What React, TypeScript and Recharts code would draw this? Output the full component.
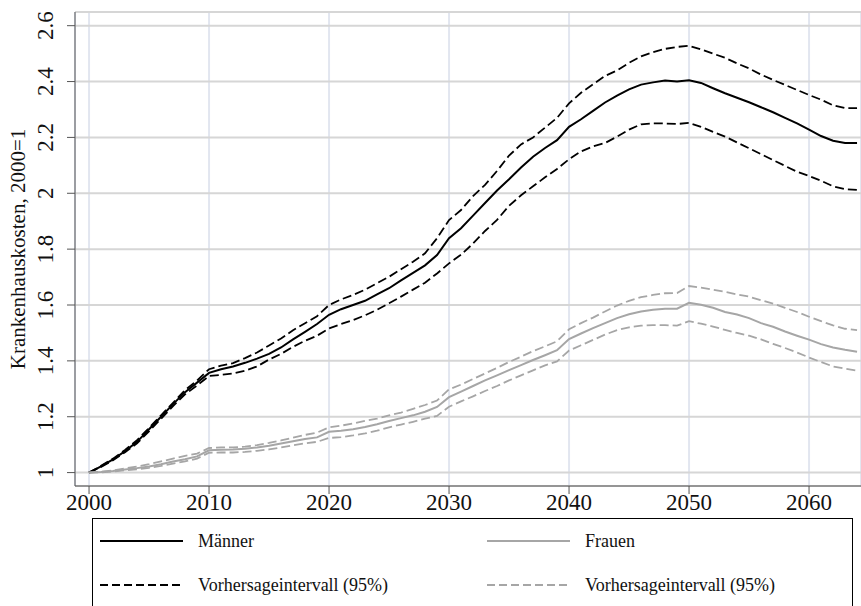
import React from "react";
import { CartesianGrid, Legend, Line, LineChart, XAxis, YAxis } from "recharts";

// Jahre 2000–2064
const years = [
  2000, 2001, 2002, 2003, 2004, 2005, 2006, 2007, 2008, 2009,
  2010, 2011, 2012, 2013, 2014, 2015, 2016, 2017, 2018, 2019,
  2020, 2021, 2022, 2023, 2024, 2025, 2026, 2027, 2028, 2029,
  2030, 2031, 2032, 2033, 2034, 2035, 2036, 2037, 2038, 2039,
  2040, 2041, 2042, 2043, 2044, 2045, 2046, 2047, 2048, 2049,
  2050, 2051, 2052, 2053, 2054, 2055, 2056, 2057, 2058, 2059,
  2060, 2061, 2062, 2063, 2064,
];

const menMid = [
  1.0, 1.022, 1.047, 1.077, 1.11, 1.155, 1.2, 1.245, 1.288, 1.322,
  1.357, 1.37, 1.38, 1.393, 1.408, 1.425, 1.448, 1.477, 1.504, 1.532,
  1.565, 1.585, 1.6, 1.615, 1.638, 1.66, 1.688, 1.715, 1.742, 1.779,
  1.839, 1.875, 1.92, 1.965, 2.01, 2.05, 2.092, 2.131, 2.162, 2.19,
  2.238, 2.265, 2.295, 2.325, 2.35, 2.372, 2.389, 2.397, 2.404, 2.4,
  2.405, 2.395, 2.376, 2.358, 2.342, 2.326, 2.308, 2.29, 2.27, 2.25,
  2.228, 2.205, 2.188, 2.18, 2.18,
];

const menHigh = [
  1.0, 1.024, 1.05, 1.081, 1.116, 1.16, 1.205, 1.25, 1.295, 1.33,
  1.37, 1.383, 1.392, 1.41, 1.43, 1.455, 1.48, 1.51, 1.535, 1.56,
  1.6, 1.62, 1.636, 1.655, 1.678, 1.701, 1.728, 1.755, 1.785, 1.839,
  1.904, 1.94, 1.99, 2.03, 2.08, 2.135, 2.175, 2.2, 2.235, 2.27,
  2.322, 2.36, 2.39, 2.42, 2.44, 2.467, 2.49, 2.505, 2.517, 2.524,
  2.528, 2.515, 2.5, 2.485, 2.465, 2.447, 2.425, 2.406, 2.388, 2.37,
  2.352, 2.335, 2.315, 2.305, 2.305,
];

const menLow = [
  1.0, 1.02, 1.044, 1.073, 1.105, 1.148, 1.193, 1.238, 1.28, 1.312,
  1.346, 1.35, 1.355, 1.365, 1.38, 1.405, 1.425, 1.45, 1.472, 1.49,
  1.516, 1.532, 1.546, 1.563, 1.583, 1.606, 1.63, 1.655, 1.68, 1.713,
  1.749, 1.78, 1.82, 1.865, 1.905, 1.955, 1.993, 2.025, 2.057, 2.087,
  2.122, 2.15, 2.168, 2.18, 2.203, 2.228, 2.247, 2.25, 2.25, 2.248,
  2.252, 2.238, 2.22, 2.203, 2.182, 2.161, 2.14, 2.119, 2.098, 2.077,
  2.062, 2.045, 2.025, 2.015, 2.012,
];

const womenMid = [
  1.0, 1.002, 1.006, 1.011, 1.016, 1.022, 1.03, 1.04, 1.048, 1.058,
  1.08, 1.082, 1.083, 1.085, 1.09, 1.096, 1.104, 1.112, 1.12, 1.126,
  1.146, 1.15, 1.155, 1.163, 1.173, 1.185, 1.195, 1.205, 1.218, 1.235,
  1.27, 1.29, 1.31, 1.33, 1.348, 1.367, 1.385, 1.403, 1.42, 1.438,
  1.478, 1.498, 1.517, 1.535, 1.553, 1.567, 1.577, 1.583, 1.587, 1.587,
  1.608, 1.601, 1.59, 1.575, 1.566, 1.553, 1.535, 1.522, 1.505, 1.49,
  1.476, 1.46, 1.448, 1.44, 1.433,
];

const womenHigh = [
  1.0, 1.003, 1.008, 1.015, 1.022, 1.03, 1.04, 1.05, 1.06, 1.068,
  1.088, 1.09, 1.09, 1.093, 1.098, 1.106, 1.115, 1.125, 1.135, 1.143,
  1.162, 1.168, 1.176, 1.185, 1.193, 1.205, 1.215, 1.228, 1.242, 1.258,
  1.298, 1.315, 1.335, 1.355, 1.375, 1.396, 1.415, 1.435, 1.452, 1.47,
  1.513, 1.535, 1.555, 1.577, 1.598, 1.615, 1.628, 1.636, 1.642, 1.643,
  1.668, 1.662, 1.655, 1.647, 1.638, 1.63, 1.617, 1.605, 1.59, 1.575,
  1.558, 1.542, 1.527, 1.515, 1.51,
];

const womenLow = [
  1.0, 1.001, 1.004, 1.008, 1.012, 1.017, 1.024, 1.032, 1.04, 1.05,
  1.071, 1.072, 1.072, 1.074, 1.078, 1.083, 1.09, 1.098, 1.105, 1.11,
  1.124, 1.127, 1.133, 1.14, 1.15, 1.162, 1.172, 1.182, 1.193, 1.203,
  1.236, 1.255, 1.273, 1.292, 1.31, 1.33, 1.348, 1.366, 1.384, 1.398,
  1.437, 1.456, 1.475, 1.494, 1.51, 1.52, 1.526, 1.528, 1.528, 1.526,
  1.542, 1.533, 1.523, 1.511, 1.5, 1.49, 1.477, 1.461, 1.446, 1.43,
  1.412, 1.396, 1.38, 1.372, 1.365,
];

const xTicks = [2000, 2010, 2020, 2030, 2040, 2050, 2060];
const yTicks = [1, 1.2, 1.4, 1.6, 1.8, 2, 2.2, 2.4, 2.6];

const yTitle = "Krankenhauskosten, 2000=1";
const legendLabels = {
  men: "Männer",
  women: "Frauen",
  ci: "Vorhersageintervall (95%)",
};

const data = years.map((year, i) => ({
  year,
  menMid: menMid[i],
  menHigh: menHigh[i],
  menLow: menLow[i],
  womenMid: womenMid[i],
  womenHigh: womenHigh[i],
  womenLow: womenLow[i],
}));

const FONT = "'Liberation Serif', 'DejaVu Serif', serif";
const BLACK = "#000000";
const GRAY = "#a6a6a6";
const DASH = "9 4";

const fmtY = (v: number) => String(Math.round(v * 10) / 10);

const YTick = (props: any) => {
  const { y, payload } = props;
  const cx = 46;
  return (
    <text
      x={cx}
      y={y}
      transform={`rotate(-90, ${cx}, ${y})`}
      textAnchor="middle"
      dominantBaseline="central"
      fontFamily={FONT}
      fontSize={23}
      fill="#111"
    >
      {fmtY(payload.value)}
    </text>
  );
};

const XTick = (props: any) => {
  const { x, y, payload } = props;
  return (
    <text x={x} y={y + 16} textAnchor="middle" fontFamily={FONT} fontSize={23} fill="#111">
      {payload.value}
    </text>
  );
};

const YTitle = (props: any) => {
  const { viewBox } = props;
  const cy = viewBox.y + viewBox.height / 2;
  const cx = 18;
  return (
    <text
      x={cx}
      y={cy}
      transform={`rotate(-90, ${cx}, ${cy})`}
      textAnchor="middle"
      dominantBaseline="central"
      fontFamily={FONT}
      fontSize={21}
      fill="#111"
    >
      {yTitle}
    </text>
  );
};

const LegendItem = ({ left, top, color, dashed, label }: any) => (
  <div style={{ position: "absolute", left, top, height: 20, display: "flex", alignItems: "center" }}>
    <svg width={83} height={4} style={{ display: "block" }}>
      <line x1={0} y1={2} x2={83} y2={2} stroke={color} strokeWidth={2} strokeDasharray={dashed ? "8 4" : undefined} />
    </svg>
    <span style={{ marginLeft: 15, lineHeight: "20px", whiteSpace: "nowrap" }}>{label}</span>
  </div>
);

const renderLegend = () => (
  <div
    style={{
      position: "relative",
      width: 761,
      height: 100,
      boxSizing: "border-box",
      border: "1px solid #000",
      background: "#fff",
      fontFamily: FONT,
      fontSize: 18,
      color: "#111",
    }}
  >
    <LegendItem left={7} top={12} color={BLACK} label={legendLabels.men} />
    <LegendItem left={394} top={12} color={GRAY} label={legendLabels.women} />
    <LegendItem left={7} top={56} color={BLACK} dashed label={legendLabels.ci} />
    <LegendItem left={394} top={56} color={GRAY} dashed label={legendLabels.ci} />
  </div>
);

export default function App() {
  return (
    <div style={{ position: "absolute", left: 0, top: 0, width: 861, height: 606, background: "#fff" }}>
      <LineChart width={861} height={606} data={data} margin={{ top: 12, right: 0, bottom: 0, left: 0 }}>
        <CartesianGrid horizontal={false} stroke="#e2e6f0" strokeWidth={2} />
        <CartesianGrid vertical={false} stroke="#d6d6d6" strokeWidth={2} />
        <XAxis
          dataKey="year"
          type="number"
          domain={[1998.83, 2064.33]}
          ticks={xTicks}
          allowDataOverflow
          height={32}
          tickSize={8}
          tickMargin={0}
          tickLine={{ stroke: "#555" }}
          axisLine={{ stroke: "#555" }}
          tick={<XTick />}
          interval={0}
        />
        <XAxis
          xAxisId="top"
          orientation="top"
          dataKey="year"
          type="number"
          domain={[1998.83, 2064.33]}
          allowDataOverflow
          height={0}
          tick={false}
          tickLine={false}
          axisLine={{ stroke: "#666" }}
        />
        <YAxis
          type="number"
          domain={[0.952, 2.649]}
          ticks={yTicks}
          allowDataOverflow
          width={75}
          tickSize={8}
          tickLine={{ stroke: "#555" }}
          axisLine={{ stroke: "#555" }}
          tick={<YTick />}
          interval={0}
          label={<YTitle />}
        />
        <Legend
          content={renderLegend}
          verticalAlign="bottom"
          wrapperStyle={{ left: 92, top: 518, width: 761, height: 88, overflow: "visible" }}
        />
        <Line dataKey="menHigh" stroke={BLACK} strokeWidth={1.8} strokeDasharray={DASH} dot={false} isAnimationActive={false} />
        <Line dataKey="menLow" stroke={BLACK} strokeWidth={1.8} strokeDasharray={DASH} dot={false} isAnimationActive={false} />
        <Line dataKey="menMid" stroke={BLACK} strokeWidth={2} dot={false} isAnimationActive={false} />
        <Line dataKey="womenHigh" stroke={GRAY} strokeWidth={1.8} strokeDasharray={DASH} dot={false} isAnimationActive={false} />
        <Line dataKey="womenLow" stroke={GRAY} strokeWidth={1.8} strokeDasharray={DASH} dot={false} isAnimationActive={false} />
        <Line dataKey="womenMid" stroke={GRAY} strokeWidth={2} dot={false} isAnimationActive={false} />
      </LineChart>
    </div>
  );
}
